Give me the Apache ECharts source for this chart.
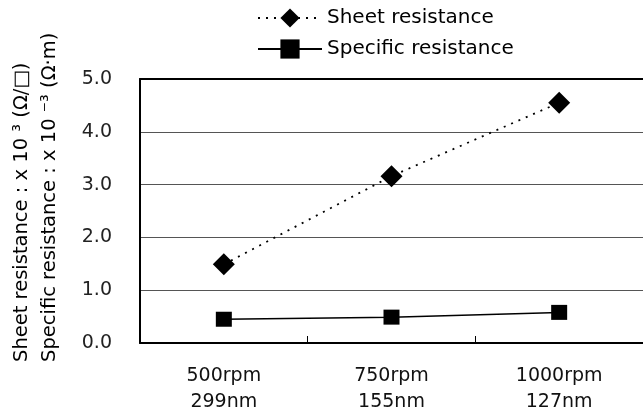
<!DOCTYPE html>
<html>
<head>
<meta charset="utf-8">
<script src="https://cdn.jsdelivr.net/npm/echarts@6/dist/echarts.min.js"></script>
<style>
  html, body { margin: 0; padding: 0; background: #fff; }
  #chart { width: 643px; height: 416px; }
</style>
</head>
<body>
<div id="chart"></div>
<script>
const categories = ['500rpm\n299nm', '750rpm\n155nm', '1000rpm\n127nm'];
const sheetResistance = [1.49, 3.16, 4.55];
const specificResistance = [0.45, 0.49, 0.58];
const yTicks = { min: 0, max: 5, interval: 1 };
const yNameLines = ['Sheet resistance : x 10 \u00b3 (\u03a9/\u25a1)', 'Specific resistance : x 10 \u207b\u00b3 (\u03a9\u00b7m)'];
const font = 'DejaVu Sans';

const chart = echarts.init(document.getElementById('chart'));
chart.setOption({
  animation: false,
  backgroundColor: '#fff',
  textStyle: { fontFamily: font },
  legend: {
    orient: 'vertical',
    left: 252,
    top: 3,
    itemWidth: 64,
    itemHeight: 24,
    itemGap: 11,
    textStyle: { fontFamily: font, fontSize: 20, color: '#000' },
    data: ['Sheet resistance', 'Specific resistance']
  },
  grid: { left: 140, right: -2, top: 79, bottom: 73 },
  xAxis: [{
    type: 'category',
    data: categories,
    boundaryGap: true,
    axisLine: { lineStyle: { color: '#000', width: 2 } },
    axisTick: { show: true, inside: true, length: 7, lineStyle: { color: '#000', width: 1 } },
    axisLabel: { fontFamily: font, fontSize: 19, color: '#111', lineHeight: 26, margin: 20 }
  }, {
    type: 'category',
    position: 'top',
    data: categories,
    axisLine: { show: true, lineStyle: { color: '#000', width: 2 } },
    axisTick: { show: false },
    axisLabel: { show: false }
  }],
  yAxis: {
    type: 'value',
    min: yTicks.min,
    max: yTicks.max,
    interval: yTicks.interval,
    axisLine: { show: true, lineStyle: { color: '#000', width: 2 } },
    axisTick: { show: false },
    axisLabel: {
      fontFamily: font, fontSize: 19, color: '#222', margin: 28,
      formatter: (v) => v.toFixed(1)
    },
    splitLine: { show: true, lineStyle: { color: '#555', width: 1 } }
  },
  graphic: [{
    type: 'text',
    x: 8,
    y: 362,
    rotation: Math.PI / 2,
    style: {
      text: yNameLines.join('\n'),
      font: '19.5px "DejaVu Sans"',
      fill: '#000',
      lineHeight: 28,
      align: 'left',
      verticalAlign: 'top'
    }
  }],
  series: [{
    name: 'Sheet resistance',
    type: 'line',
    data: sheetResistance,
    symbol: 'diamond',
    symbolSize: 22,
    itemStyle: { color: '#000' },
    lineStyle: { color: '#000', width: 1.8, type: [2, 6] }
  }, {
    name: 'Specific resistance',
    type: 'line',
    data: specificResistance,
    symbol: 'rect',
    symbolSize: [16, 15],
    itemStyle: { color: '#000' },
    lineStyle: { color: '#000', width: 1.5, type: 'solid' }
  }]
});
window.addEventListener('resize', function() {
  chart.resize();
});
</script>
</body>
</html>
